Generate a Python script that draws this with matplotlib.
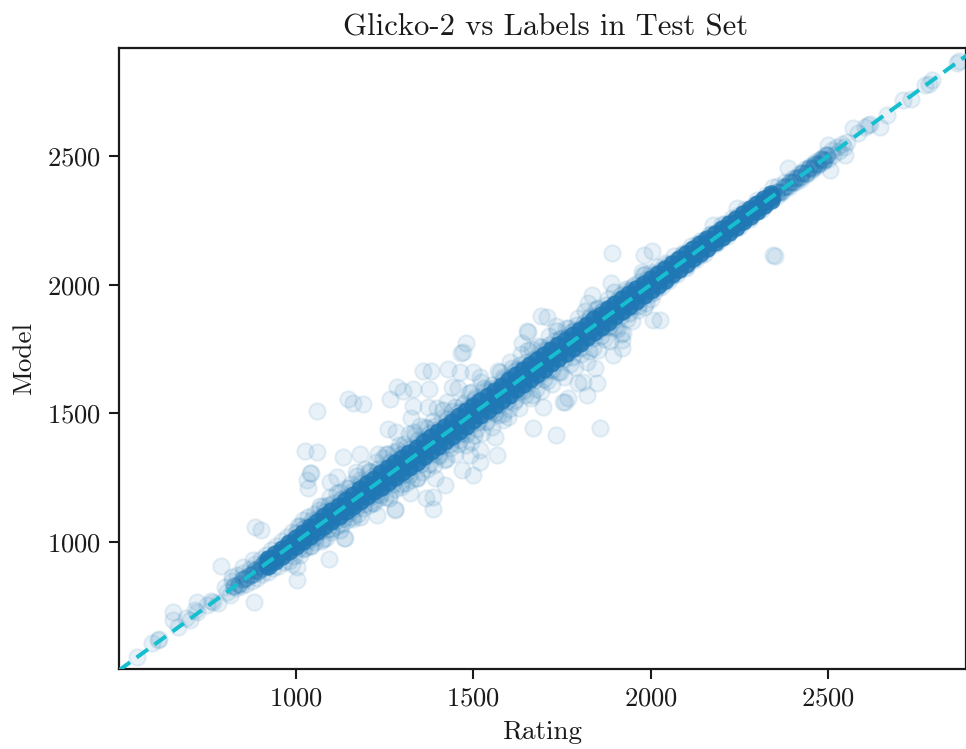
import matplotlib
matplotlib.use("Agg")
import matplotlib.pyplot as plt

plt.rcParams["font.family"] = ["cmr10", "DejaVu Serif"]
plt.rcParams["axes.formatter.use_mathtext"] = True
plt.rcParams["axes.unicode_minus"] = False

TITLE = "Glicko-2 vs Labels in Test Set"
XLABEL = "Rating"
YLABEL = "Model"
x_ticks = [1000, 1500, 2000, 2500]
y_ticks = [1000, 1500, 2000, 2500]
x_limits = [501, 2889]
y_limits = [506, 2920]
identity = [500, 2920]

# sparse points read individually
outer_points = [
 (552,553),(594,607),(611,619),(615,622),(653,728),(653,697),(668,670),(701,697),(690,705),(721,767),(721,728),(715,735),
 (766,767),(780,763),(750,755),(760,770),(805,806),(800,825),(820,864),(815,795),(830,820),(851,903),(879,930),(884,1058),(900,1047),(789,907),
 (882,767),(1003,852),(1093,934),(1135,1016),(1279,1128),(1228,1105),(1003,903),(990,915),(1025,1354),(1060,1350),
 (1132,1330),(1039,1268),(1032,1241),(1035,1210),(1058,1509),(1146,1557),(1161,1541),(1188,1536),(1265,1556),(1285,1602),
 (1301,1587),(1330,1595),(1374,1594),(1358,1665),(1380,1665),(1429,1672),(1465,1736),(1471,1738),(1479,1772),(1330,1529),
 (1324,1482),(1372,1525),(1259,1439),(1283,1427),(1180,1342),(1231,1342),(1042,1268),(1115,1253),(1096,1233),(1462,1661),
 (1498,1661),(1440,1602),(1519,1641),(1696,1525),(1668,1443),(1733,1416),(1758,1544),(1767,1558),(1561,1408),(1598,1486),
 (1566,1338),(1519,1311),(1491,1338),(1468,1280),(1499,1260),(1420,1222),(1392,1249),(1386,1175),(1367,1171),(1386,1128),
 (1279,1124),(1322,1190),(1138,1016),(1519,1358),(1654,1816),(1637,1773),(1795,1618),(1890,2123),(1981,2115),(2004,2131),
 (2345,2115),(2351,2111),(1975,2049),(1888,2007),(1834,1960),(1823,1929),(1690,1878),(1707,1874),(1733,1841),(1652,1820),
 (2026,1863),(2006,1863),(1922,1812),(1919,1785),(1919,1754),(1894,1727),(1843,1676),(1848,1618),(1809,1622),(1820,1571),
 (1753,1544),(1857,1443),(2864,2862),(2870,2868),(2793,2795),(2785,2780),(2773,2776),(2711,2718),(2733,2722),(2666,2660),
 (2646,2613),(2612,2620),(2618,2625),(2605,2612),(2570,2609),(2584,2590),(2553,2555),(2548,2504),(2500,2543),(2505,2446),(2387,2454),
]

# looser points hugging the dark band
fuzz_points = [
 (820,850),(835,870),(845,830),(850,880),(860,835),(870,895),(875,850),(885,915),(890,860),(900,935),(905,875),(915,950),(920,885),
 (930,970),(935,900),(945,985),(950,905),(960,1005),(965,920),(975,1020),(980,925),(990,1040),(995,945),(1005,1060),(1010,950),
 (1020,1085),(1025,975),(1030,1060),(1040,985),(1050,1110),(1055,1000),(1065,1125),(1070,1005),(1080,1140),(1085,1015),(1095,1175),(1100,1040),
 (1105,1150),(1115,1060),(1125,1195),(1130,1070),(1140,1210),(1145,1085),(1155,1225),(1160,1090),(1170,1270),(1175,1110),(1180,1240),
 (1190,1130),(1195,1285),(1205,1145),(1210,1270),(1220,1150),(1225,1310),(1235,1170),(1245,1325),(1250,1175),(1260,1340),(1265,1190),
 (1275,1350),(1280,1205),(1290,1375),(1295,1215),(1305,1380),(1310,1230),(1320,1420),(1325,1240),(1335,1415),(1340,1250),(1350,1450),(1355,1270),
 (1365,1445),(1370,1285),
 (1385,1470),(1398,1520),(1412,1480),(1427,1545),(1441,1510),(1458,1600),(1473,1540),(1489,1580),(1505,1565),(1521,1620),(1536,1590),(1552,1600),
 (1570,1665),(1585,1640),(1603,1700),(1618,1670),(1633,1730),(1649,1700),(1666,1750),(1683,1760),(1697,1745),(1712,1800),(1728,1780),(1745,1790),
 (1762,1830),(1778,1815),(1795,1870),(1812,1850),(1829,1880),(1846,1905),(1864,1895),(1880,1945),(1897,1925),(1915,1960),(1933,1975),(1950,1990),
 (1968,2010),(1985,2040),
 (1388,1300),(1402,1335),(1418,1320),(1433,1365),(1447,1340),(1462,1395),(1478,1375),(1493,1390),(1508,1440),(1524,1425),(1538,1470),(1553,1445),
 (1569,1495),(1584,1475),(1600,1515),(1615,1545),(1630,1520),(1646,1570),(1662,1560),(1677,1595),(1692,1585),(1708,1625),(1723,1615),(1740,1660),
 (1755,1640),(1772,1690),(1788,1680),(1803,1730),(1820,1700),(1836,1755),(1852,1745),(1868,1790),(1884,1780),(1900,1835),(1916,1810),(1932,1865),
 (1948,1860),(1965,1900),(1982,1915),(2000,1945),
 (2000,2050),(2010,1970),(2020,2070),(2030,1990),(2040,2085),(2050,2015),(2065,2110),(2075,2040),(2090,2125),(2100,2065),(2115,2150),(2125,2095),
 (2140,2170),(2150,2120),(2165,2195),(2176,2232),(2190,2165),(2200,2235),(2215,2190),(2230,2260),(2243,2298),(2250,2225),(2265,2295),(2280,2255),
 (2300,2330),(2310,2290),(2325,2350),(2345,2380),(2340,2325),(2355,2345),(2360,2385),(2370,2360),(2380,2400),(2390,2380),(2400,2415),(2410,2398),
 (2420,2435),(2425,2410),(2435,2450),(2440,2430),(2450,2462),(2455,2445),(2462,2475),(2470,2460),(2478,2490),(2485,2475),(2492,2505),(2500,2490),
 (2510,2525),(2515,2505),(2525,2535),(2530,2520),(2540,2545),(2545,2535),
]

# denser halo just outside the band
halo_points = [
 (1000,1035),(1011,1063),(1023,1053),(1034,1096),(1046,1086),(1057,1085),(1069,1139),(1080,1116),(1092,1144),(1103,1133),(1115,1190),(1126,1168),
 (1138,1171),(1149,1209),(1161,1199),(1172,1257),(1184,1229),(1195,1227),(1207,1275),(1218,1258),(1230,1285),(1241,1275),(1253,1343),(1264,1312),
 (1276,1312),(1287,1359),(1299,1341),(1310,1370),(1322,1360),(1333,1428),(1345,1395),(1356,1392),(1368,1443),(1379,1423),(1391,1451),(1402,1440),
 (1414,1514),(1425,1477),(1437,1475),(1448,1526),(1460,1505),(1471,1533),(1483,1521),(1494,1584),(1506,1556),(1517,1553),(1529,1599),(1540,1582),
 (1552,1610),(1563,1599),(1575,1660),(1586,1634),(1598,1632),(1609,1677),(1621,1663),(1632,1687),(1644,1678),(1655,1745),(1667,1713),(1678,1712),
 (1690,1756),(1701,1741),(1713,1765),(1724,1756),(1736,1821),(1747,1791),(1759,1791),(1770,1832),(1782,1820),(1793,1843),(1805,1835),(1816,1896),
 (1828,1870),(1839,1869),(1851,1911),(1862,1898),(1874,1922),(1885,1913),(1897,1972),(1908,1946),(1920,1948),(1931,1983),(1943,1977),(1954,1998),
 (1966,1992),(1977,2037),(1989,2023),
 (1008,976),(1020,972),(1031,1005),(1043,983),(1054,1018),(1066,1038),(1077,1011),(1089,1051),(1100,1050),(1112,1082),(1123,1048),(1135,1093),
 (1146,1114),(1158,1098),(1169,1131),(1181,1096),(1192,1148),(1204,1172),(1215,1150),(1227,1187),(1238,1183),(1250,1216),(1261,1171),(1273,1227),
 (1284,1250),(1296,1226),(1307,1265),(1319,1261),(1330,1294),(1342,1247),(1353,1303),(1365,1329),(1376,1301),(1388,1346),(1399,1339),(1411,1373),
 (1422,1322),(1434,1382),(1445,1409),(1457,1382),(1468,1423),(1480,1420),(1491,1455),(1503,1415),(1514,1466),(1526,1492),(1537,1467),(1549,1507),
 (1560,1502),(1572,1536),(1583,1498),(1595,1547),(1606,1572),(1618,1550),(1629,1587),(1641,1586),(1652,1618),(1664,1572),(1675,1629),(1687,1653),
 (1698,1632),(1710,1670),(1721,1669),(1733,1701),(1744,1659),(1756,1712),(1767,1735),(1779,1717),(1790,1752),(1802,1752),(1813,1783),(1825,1743),
 (1836,1794),(1848,1818),(1859,1799),(1871,1835),(1882,1834),(1894,1866),(1905,1827),(1917,1879),(1928,1900),(1940,1888),(1951,1917),(1963,1919),
 (1974,1948),(1986,1928),(1997,1965),
 (2010,2040),(2030,2058),(2050,2082),(2070,2096),(2090,2120),(2110,2134),(2130,2160),(2150,2172),(2170,2196),(2190,2210),(2210,2234),(2230,2248),
 (2250,2272),(2270,2286),(2290,2310),(2310,2326),(2020,1990),(2040,2014),(2060,2032),(2080,2056),(2100,2074),(2120,2098),(2140,2116),(2160,2140),
 (2180,2160),(2200,2182),(2220,2202),(2240,2222),(2260,2244),(2280,2264),(2300,2286),(2320,2306),
]

# medium-density ends of the band
taper_points = [
 (825,828),(840,838),(850,856),(860,858),(870,872),(878,874),(885,892),(892,888),(900,905),(905,898),(912,920),(918,912),(925,935),(932,925),
 (2345,2348),(2355,2362),(2365,2362),(2375,2380),(2385,2382),(2392,2400),(2402,2400),(2410,2416),(2420,2418),(2428,2436),(2438,2436),(2446,2452),
 (2455,2455),(2464,2470),(2472,2470),(2482,2488),(2490,2486),(2498,2505),
]

core_x = [920,940,960,980,1000,1020,1040,1060,1080,1100,1120,1140,1160,1180,1200,1220,1240,1260,1280,1300,
 1320,1340,1360,1380,1400,1420,1440,1460,1480,1500,1520,1540,1560,1580,1600,1620,1640,1660,1680,1700,
 1720,1740,1760,1780,1800,1820,1840,1860,1880,1900,1920,1940,1960,1980,2000,2020,2040,2060,2080,2100,
 2120,2140,2160,2180,2200,2220,2240,2260,2280,2300,2320,2340]
core_hi = [933,954,974,994,1015,1036,1057,1078,1099,1120,1141,1162,1183,1204,1225,1246,1267,1286,1306,1327,
 1347,1367,1387,1408,1428,1448,1468,1488,1508,1527,1547,1567,1588,1607,1628,1648,1668,1688,1707,1727,
 1747,1767,1786,1806,1825,1845,1865,1884,1904,1924,1943,1963,1983,2002,2022,2041,2061,2080,2100,2119,
 2138,2158,2177,2196,2216,2235,2254,2273,2293,2312,2332,2351]
core_mid = [921,939,961,979,1001,1019,1041,1059,1081,1099,1121,1139,1161,1179,1201,1219,1241,1259,1281,1299,
 1321,1339,1361,1379,1401,1419,1441,1459,1481,1499,1521,1539,1561,1579,1601,1619,1641,1659,1681,1699,
 1721,1739,1761,1779,1801,1819,1841,1859,1881,1899,1921,1939,1961,1979,2001,2019,2041,2059,2081,2099,
 2121,2139,2161,2179,2201,2219,2241,2259,2281,2299,2321,2339]
core_lo = [908,927,946,966,986,1005,1024,1043,1062,1081,1100,1119,1138,1158,1177,1196,1215,1233,1253,1273,
 1292,1312,1333,1352,1372,1392,1412,1432,1452,1473,1492,1513,1533,1553,1573,1593,1613,1634,1654,1674,
 1694,1714,1734,1755,1775,1795,1816,1836,1856,1877,1897,1917,1938,1958,1978,1999,2019,2040,2061,2081,
 2102,2122,2143,2164,2185,2205,2226,2247,2268,2288,2309,2329]

BLUE = "#1f77b4"
fig = plt.figure(figsize=(9.66, 7.49), dpi=100)
ax = fig.add_axes([119/966, 1-669/749, (966-119)/966, (669-48)/749])

for pts, a in ((outer_points, 0.1), (fuzz_points, 0.1), (halo_points, 0.13), (taper_points, 0.28)):
    ax.scatter([p[0] for p in pts], [p[1] for p in pts], s=140, color=BLUE, alpha=a, linewidths=1.5, zorder=2)
for ys in (core_hi, core_mid, core_lo):
    ax.scatter(core_x, ys, s=175, color=BLUE, alpha=0.85, linewidths=0, zorder=2)

ax.plot(identity, identity, color="#17becf", lw=2.9, dashes=(3.5, 2.0), zorder=3)

ax.set_xlim(x_limits)
ax.set_ylim(y_limits)
ax.set_xticks(x_ticks)
ax.set_yticks(y_ticks)
ax.tick_params(labelsize=19.2, width=1.5, length=7, color="#1a1a1a", labelcolor="#1a1a1a", pad=6)
for s in ax.spines.values():
    s.set_linewidth(1.6)
    s.set_color("#1a1a1a")
ax.set_title(TITLE, fontsize=22.1, pad=9, color="#1a1a1a", x=0.504)
ax.set_xlabel(XLABEL, fontsize=19.5, labelpad=7, color="#1a1a1a")
ax.set_ylabel(YLABEL, fontsize=19.5, labelpad=8, color="#1a1a1a")
fig.savefig("out.png", dpi=100)
